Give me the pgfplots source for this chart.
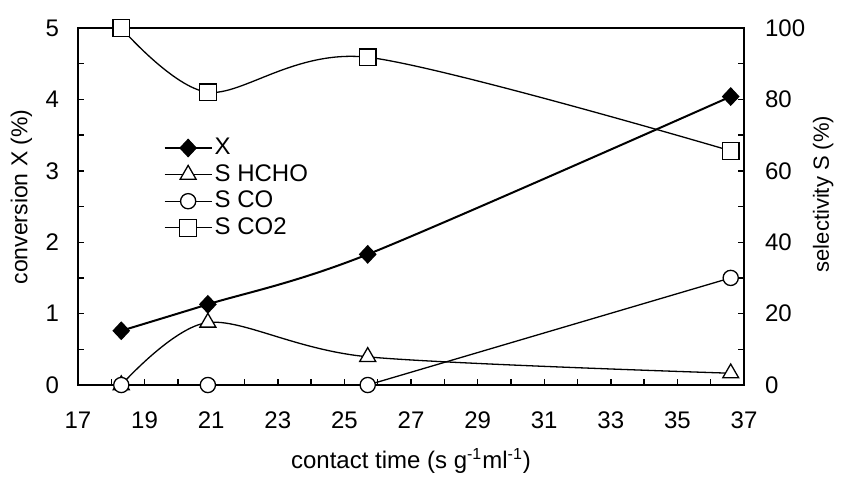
\documentclass[border=0pt]{standalone}
\usepackage{fontspec}
\setmainfont{Liberation Sans}
\usepackage{pgfplots}
\pgfplotsset{compat=1.18}
\begin{document}
\begin{tikzpicture}[font=\fontsize{12}{14}\selectfont]
\pgfplotsset{
  common/.style={
    width=333pt, height=178.5pt, scale only axis,
    xmin=17, xmax=37, clip=false,
    /pgf/number format/assume math mode=true,
    tick align=inside, major tick length=3pt, minor tick length=3pt,
    every tick/.style={black, line width=0.7pt},
    axis line style={line width=1pt},
    tick label style={font=\fontsize{12}{14}\selectfont},
  },
  xser/.style={black, line width=1pt, mark=diamond*, mark size=4.3pt, mark options={fill=black, xscale=1.25, line width=0.6pt}},
}
\begin{axis}[common,
  ymin=0, ymax=5,
  xtick={17,19,...,37}, minor xtick={18,20,...,36},
  ytick={0,...,5}, minor ytick={0.5,1.5,...,4.5},
  xtick pos=bottom, ytick pos=left,
  xticklabel style={yshift=-10pt},
  yticklabel style={xshift=-6pt},
  xlabel={contact time (s g\textsuperscript{-1}ml\textsuperscript{-1})},
  xlabel style={at={(axis description cs:0.5,-0.212)}, anchor=center},
  ylabel={conversion X (\%)},
  ylabel style={font=\fontsize{11.5}{13}\selectfont, at={(axis description cs:-0.085,0.527)}, anchor=center},
]
\addplot[xser, smooth] coordinates {(18.3,0.76)(20.9,1.13)(25.7,1.83)(36.6,4.04)};
\end{axis}
\begin{axis}[common,
  ymin=0, ymax=100,
  axis y line*=right, axis x line=none,
  ytick={0,20,...,100}, minor ytick={10,30,...,90},
  yticklabel style={xshift=7pt},
  ylabel={selectivity S (\%)},
  ylabel style={font=\fontsize{11}{13}\selectfont, at={(axis description cs:1.119,0.535)}, anchor=center},
  legend cell align=left,
  legend style={at={(axis description cs:0.128,0.7)}, anchor=north west, draw=none, fill=none, inner sep=0pt,
    font=\fontsize{12}{14}\selectfont, nodes={inner sep=1pt, text height=8.5pt, text depth=2pt}, row sep=0.8pt},
  legend image code/.code={\draw[mark repeat=2,mark phase=2] plot coordinates {(0pt,0pt)(11.75pt,0pt)(23.5pt,0pt)};},
]
\addlegendimage{xser}
\addlegendentry{X}
\addplot[black, line width=0.65pt, smooth, mark=triangle*, mark size=4.6pt, mark options={fill=white, line width=0.65pt}]
  coordinates {(18.3,0)(20.9,17.5)(25.7,7.9)(36.6,3.3)};
\addlegendentry{S HCHO}
\addplot[black, line width=0.65pt, mark=*, mark size=3.8pt, mark options={fill=white, line width=0.65pt}]
  coordinates {(18.3,0)(20.9,0)(25.7,0)(36.6,30)};
\addlegendentry{S CO}
\addplot[black, line width=0.65pt, smooth, mark=square*, mark size=4.2pt, mark options={fill=white, line width=0.65pt}]
  coordinates {(18.3,100)(20.9,82)(25.7,91.8)(36.6,65.6)};
\addlegendentry{S CO2}
\path (rel axis cs:-0.1171,1.0784) (rel axis cs:1.1486,-0.2353);
\end{axis}
\end{tikzpicture}
\end{document}
